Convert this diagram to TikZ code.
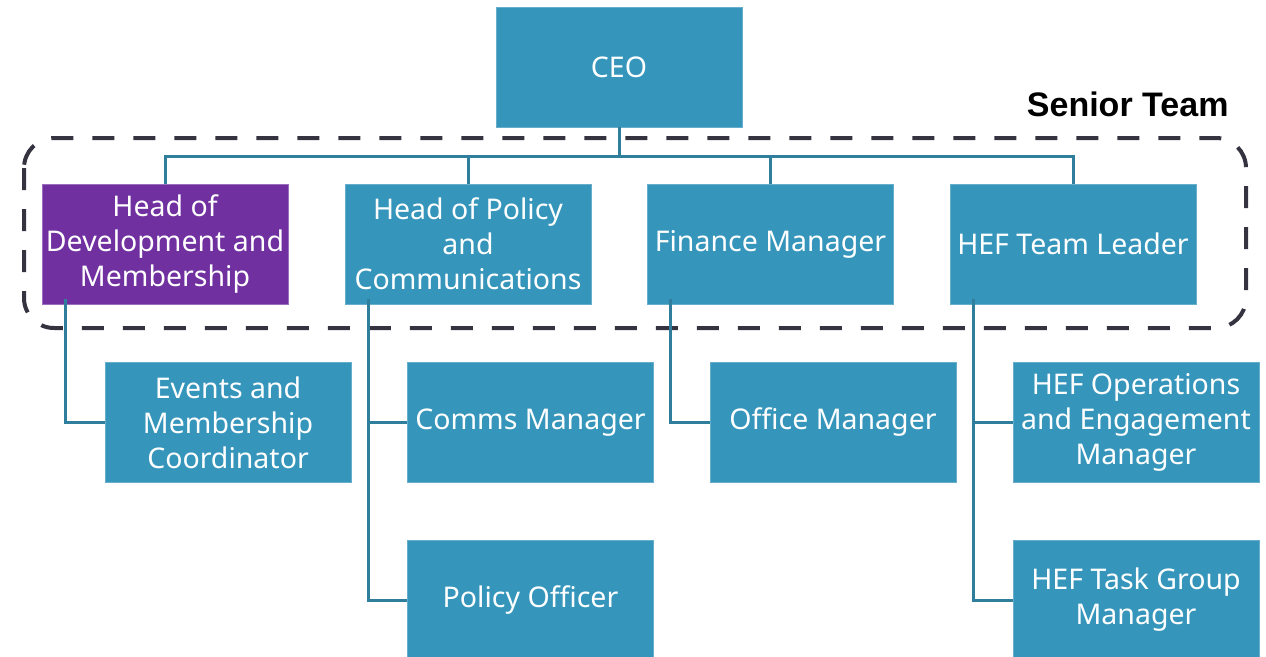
\documentclass[tikz,border=0pt]{standalone}
\usepackage{fontspec}
\setmainfont{Noto Sans}
\newfontfamily\titlefont{Liberation Sans}
\definecolor{boxteal}{HTML}{3595BB}
\definecolor{boxedge}{HTML}{66AECB}
\definecolor{linkteal}{HTML}{2E7E9C}
\definecolor{hdpurple}{HTML}{7030A0}
\definecolor{dashgray}{HTML}{35333F}
\begin{document}
\begin{tikzpicture}[x=1pt,y=-1pt,
  rolebox/.style={draw=boxedge,line width=0.8pt,fill=boxteal,text=white,
    minimum width=246pt,minimum height=120pt,inner sep=0pt,align=center,
    font=\fontsize{28.5}{35}\selectfont},
  purplebox/.style={rolebox,fill=hdpurple,draw=hdpurple!70!white},
  link/.style={draw=linkteal,line width=3pt},
  teamframe/.style={draw=dashgray,line width=4pt,dash pattern=on 22pt off 19pt,rounded corners=30pt}]
\clip (0,0) rectangle (1266,656);
\useasboundingbox (0,0) rectangle (1266,656);
% frame
\draw[teamframe] (24,138) rectangle (1246,328);
\node[font=\titlefont\fontsize{34}{38}\selectfont\bfseries,anchor=east] (senior) at (1232,104) {Senior Team};
% nodes
\node[rolebox] (ceo) at (619,67) {CEO};
\node[purplebox] (hdev) at (165,244) {Head of\\Development and\\Membership};
\node[rolebox] (hpol) at (468,244) {Head of Policy\\and\\Communications};
\node[rolebox] (fin) at (770.5,244) {Finance Manager};
\node[rolebox] (hef) at (1073,244) {HEF Team Leader};
\node[rolebox] (events) at (228,422.5) {Events and\\Membership\\Coordinator};
\node[rolebox] (comms) at (530.5,422.5) {Comms Manager};
\node[rolebox] (polo) at (530.5,600) {Policy Officer};
\node[rolebox] (office) at (833,422.5) {Office Manager};
\node[rolebox] (hefops) at (1136,422.5) {HEF Operations\\and Engagement\\Manager};
\node[rolebox] (heftask) at (1136,600) {HEF Task Group\\Manager};
% coordinates for links
\coordinate (bar) at (0,156);
\coordinate (devx) at (65,0);
\coordinate (polx) at (368,0);
\coordinate (finx) at (670,0);
\coordinate (hefx) at (973,0);
% top links
\draw[link] (ceo.south) -- (ceo.south |- bar);
\draw[link] (hdev.north) |- (hef.north |- bar) -- (hef.north);
\draw[link] (hpol.north) -- (hpol.north |- bar);
\draw[link] (fin.north) -- (fin.north |- bar);
% sub links
\draw[link] ([yshift=5pt]hdev.south -| devx) |- (events.west);
\draw[link] ([yshift=5pt]hpol.south -| polx) |- (polo.west);
\draw[link] (polx |- comms.west) -- (comms.west);
\draw[link] ([yshift=5pt]fin.south -| finx) |- (office.west);
\draw[link] ([yshift=5pt]hef.south -| hefx) |- (heftask.west);
\draw[link] (hefx |- hefops.west) -- (hefops.west);
\end{tikzpicture}
\end{document}
